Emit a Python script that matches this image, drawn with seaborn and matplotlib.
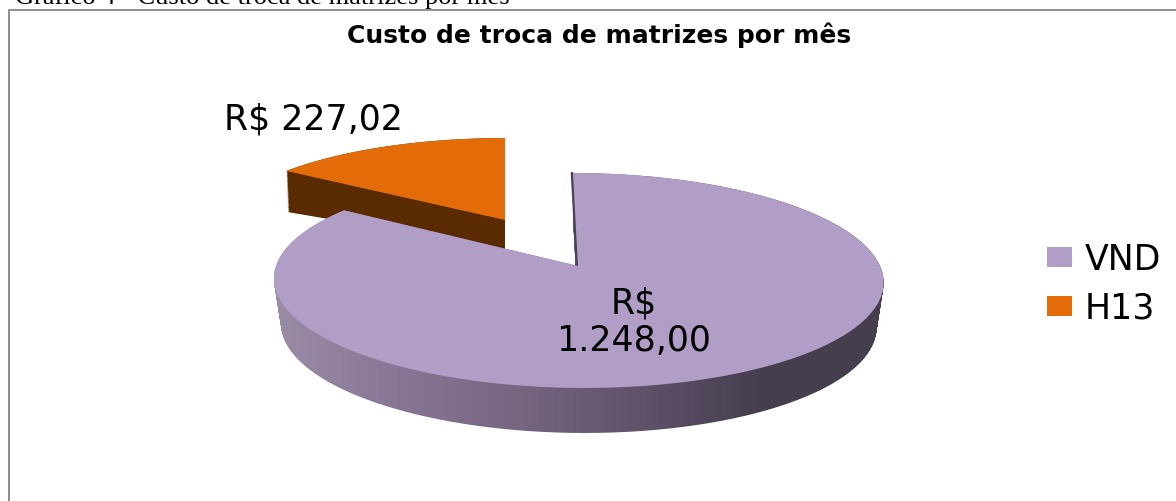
import numpy as np
import matplotlib
matplotlib.use('Agg')
import matplotlib.pyplot as plt
import seaborn as sns
from matplotlib.path import Path
from matplotlib.patches import PathPatch, Patch, Rectangle
from matplotlib.transforms import Affine2D

# data
categories = ['VND', 'H13']
custos = [1248.00, 227.02]
rotulos = ['R$\n1.248,00', 'R$ 227,02']
titulo = 'Custo de troca de matrizes por mês'
legenda_sup = 'Gráfico 4 - Custo de troca de matrizes por mês'

# colours
cor_vnd = '#B09EC6'
cor_h13 = '#E36C09'
cor_h13_lado = '#5A2A00'
lado_vnd = ['#9B8CA5', '#877696', '#766680', '#5F5269', '#463E50', '#463E4E']

W, H = 1176, 501
PERSP = 0.135

sns.set_theme(style='white')
plt.rcParams['font.family'] = ['DejaVu Sans']

fig = plt.figure(figsize=(W / 100, H / 100), dpi=100)
ax = fig.add_axes([0, 0, 1, 1])

wedges, _ = ax.pie(custos, startangle=90, counterclock=False, radius=1)
base = []
for w in wedges:
    # flatten the unit wedge, keeps the arcs smooth after the warp below
    poly = w.get_path().to_polygons(Affine2D().scale(500))[0] / 500
    base.append(poly)
    w.remove()


def warp(poly, cx, cy, rx, a, shear=0.0):
    # tilt the flat pie with a simple perspective
    d = 1 + PERSP * poly[:, 1]
    y = a * poly[:, 1] / d
    x = rx * poly[:, 0] / d - shear * y
    return np.column_stack([cx + x, H - cy + y])


def camadas(poly, topo, fundo, n=50):
    paths = []
    for t in np.linspace(0, 1, n):
        p = [a + (b - a) * t for a, b in zip(topo, fundo)]
        paths.append(Path(warp(poly, *p)))
    return Path.make_compound_path(*paths)


# H13 slice, pulled out
h13_top = (505, 220, 286, 93)
h13_bot = (505, 249, 284, 70)
ax.add_patch(PathPatch(camadas(base[1], h13_top, h13_bot), fc=cor_h13_lado, ec='none', zorder=1))
ax.add_patch(PathPatch(Path(warp(base[1], *h13_top)), fc=cor_h13, ec='none', zorder=2))

# VND slice with the shaded wall
vnd_top = (578, 266, 302, 105.5, 0.054)
vnd_bot = (578, 311, 295, 105.5, 0.054)
cmap = sns.blend_palette(lado_vnd, 256, as_cmap=True)
grad = np.linspace(0, 1, 256).reshape(1, -1)
im = ax.imshow(grad, cmap=cmap, extent=(274, 884, 0, H), aspect='auto', zorder=3)
im.set_clip_path(camadas(base[0], vnd_top, vnd_bot), transform=ax.transData)

topo_vnd = warp(base[0], *vnd_top)
corte = warp(np.array([[0.0, 0.0], [0.0, 1.0]]), *vnd_top)
ax.plot(corte[:, 0] - 1, corte[:, 1], color='#4A4254', lw=1.8, zorder=4)
ax.add_patch(PathPatch(Path(topo_vnd), fc=cor_vnd, ec='none', zorder=5))

# frame of the chart, runs off the page on two sides
ax.add_patch(Rectangle((9, -20), W, H - 10 + 20, fc='none', ec='#868686', lw=1.3, zorder=6))

# texts
ax.text(634, H - 322, rotulos[0], ha='center', va='center', fontsize=25, linespacing=1.12, color='black', zorder=7)
ax.text(313, H - 119, rotulos[1], ha='center', va='center', fontsize=25, color='black', zorder=7)
ax.text(599, H - 35, titulo, ha='center', va='center', fontsize=18, fontweight='bold', color='black', zorder=7)
ax.text(15, H - 4, legenda_sup, ha='left', va='baseline', fontsize=19, color='black',
        family=['Liberation Serif', 'DejaVu Sans'], zorder=7)

handles = [Patch(fc=cor_vnd, ec='none'), Patch(fc=cor_h13, ec='none')]
leg = ax.legend(handles, categories, loc='center left', bbox_to_anchor=(1033 / W, 1 - 284 / H),
                frameon=False, fontsize=25, labelcolor='black', handlelength=0.72, handleheight=0.5,
                handletextpad=0.38, labelspacing=0.42, borderaxespad=0, borderpad=0.4)
leg.set_zorder(7)

ax.set_aspect('auto')
ax.set_xlim(0, W)
ax.set_ylim(0, H)
ax.axis('off')

fig.savefig('out.png', dpi=100)
